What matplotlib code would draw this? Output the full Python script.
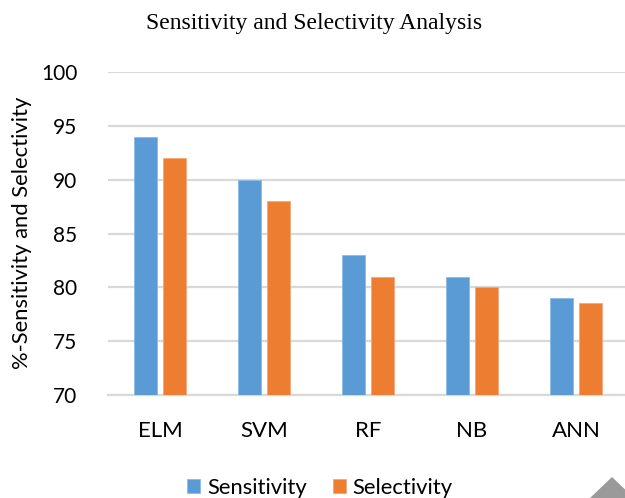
import matplotlib
matplotlib.use("Agg")
import matplotlib.pyplot as plt
from matplotlib.patches import Polygon
import numpy as np

categories = ["ELM", "SVM", "RF", "NB", "ANN"]
sensitivity = [94, 90, 83, 81, 79]
selectivity = [92, 88, 81, 80, 78.5]
y_ticks = [70, 75, 80, 85, 90, 95, 100]

BLUE = "#5B9BD5"
ORANGE = "#ED7D31"
GRID = "#D9D9D9"
SANS = ["Lato", "DejaVu Sans"]

fig = plt.figure(figsize=(6.25, 4.98), dpi=100)
ax = fig.add_axes([108 / 625, 1 - 395 / 498, 520 / 625, 323 / 498])

x = np.arange(len(categories))
w = 0.22
off = 0.14
ax.bar(x - off, sensitivity, w, color=BLUE, edgecolor="#8DB9E3", linewidth=0.6,
       label="Sensitivity", zorder=3)
ax.bar(x + off, selectivity, w, color=ORANGE, edgecolor="#F3A777", linewidth=0.6,
       label="Selectivity", zorder=3)

ax.set_xlim(-0.5, len(categories) - 0.5)
ax.set_ylim(70, 100)
ax.set_yticks(y_ticks)
ax.set_xticks(x)
ax.set_xticklabels(categories)
ax.yaxis.grid(True, color=GRID, linewidth=1.6, zorder=0)
ax.set_axisbelow(True)
for s in ["top", "right", "left"]:
    ax.spines[s].set_visible(False)
ax.spines["bottom"].set_color(GRID)
ax.spines["bottom"].set_linewidth(1.6)
ax.tick_params(axis="both", length=0, colors="black")
ax.tick_params(axis="y", pad=22, labelsize=15)
ax.tick_params(axis="x", pad=19, labelsize=16)
for lbl in ax.get_xticklabels() + ax.get_yticklabels():
    lbl.set_family(SANS)

fig.text(22 / 625, 1 - 232.5 / 498, "%-Sensitivity and Selectivity", rotation=90,
         ha="center", va="center", fontsize=15.8, family=SANS)

fig.text(314 / 625, 1 - 23 / 498, "Sensitivity and Selectivity Analysis", ha="center",
         va="center", fontsize=17, family=["Liberation Serif", "DejaVu Serif"])

fig.legend(loc="center", bbox_to_anchor=(320 / 625, 1 - 488 / 498), ncol=2,
           frameon=False, prop={"family": SANS, "size": 15.8}, handlelength=0.6,
           handleheight=0.6, handletextpad=0.3, columnspacing=1.2)

# scroll-up arrow overlay at the lower right corner
tri = Polygon([[612 / 625, 1 - 477 / 498], [590 / 625, 0.0], [634 / 625, 0.0]],
              closed=True, transform=fig.transFigure, facecolor="#9A9A9A",
              edgecolor="none", clip_on=False)
fig.patches.append(tri)

fig.savefig("out.png", dpi=100)
